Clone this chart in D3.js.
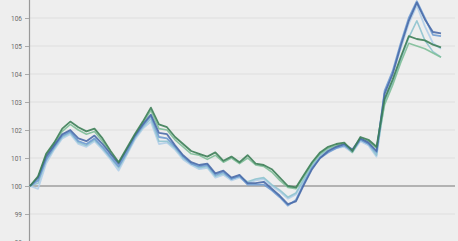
<!DOCTYPE html>
<html>
<head>
<meta charset="utf-8">
<script src="https://cdn.jsdelivr.net/npm/d3@7"></script>
<style>
html,body{margin:0;padding:0;background:#eeeeee;overflow:hidden;}
svg{display:block;}
</style>
</head>
<body>
<svg id="chart" width="458" height="241"></svg>
<script>
const periods = ["M01","M02","M03","M04","M05","M06","M07","M08","M09","M10","M11","M12",
"M13","M14","M15","M16","M17","M18","M19","M20","M21","M22","M23","M24",
"M25","M26","M27","M28","M29","M30","M31","M32","M33","M34","M35","M36",
"M37","M38","M39","M40","M41","M42","M43","M44","M45","M46","M47","M48",
"M49","M50","M51","M52"];

const yTicks = [98, 99, 100, 101, 102, 103, 104, 105, 106];

const lightBlue = [100.0, 99.9, 100.8, 101.3, 101.7, 101.85, 101.5, 101.4, 101.6, 101.3, 100.95, 100.55, 101.1, 101.65, 102.05, 102.3, 101.5, 101.55, 101.3, 100.95, 100.75, 100.6, 100.65, 100.3, 100.4, 100.2, 100.3, 100.1, 100.2, 100.25, 100.0, 99.8, 99.55, 99.7, 100.2, 100.7, 101.05, 101.25, 101.35, 101.4, 101.2, 101.6, 101.45, 101.05, 103.2, 104.0, 104.9, 105.8, 106.45, 105.7, 105.1, 104.9];
const lightTeal = [100.0, 100.1, 100.9, 101.35, 101.75, 101.9, 101.55, 101.45, 101.65, 101.35, 101.0, 100.65, 101.15, 101.7, 102.1, 102.4, 101.6, 101.6, 101.35, 101.0, 100.8, 100.65, 100.7, 100.35, 100.45, 100.25, 100.35, 100.15, 100.25, 100.3, 100.05, 99.85, 99.6, 99.75, 100.25, 100.75, 101.1, 101.3, 101.4, 101.45, 101.25, 101.65, 101.5, 101.1, 103.0, 103.7, 104.5, 105.3, 105.9, 105.2, 104.8, 104.6];
const midGreen = [100.0, 100.3, 101.1, 101.5, 101.95, 102.2, 102.0, 101.85, 101.95, 101.6, 101.15, 100.8, 101.3, 101.8, 102.25, 102.7, 102.05, 102.0, 101.65, 101.4, 101.15, 101.1, 100.95, 101.1, 100.85, 101.0, 100.8, 101.0, 100.75, 100.7, 100.5, 100.2, 99.95, 99.9, 100.35, 100.8, 101.15, 101.35, 101.45, 101.5, 101.2, 101.7, 101.6, 101.35, 102.9, 103.6, 104.4, 105.1, 105.0, 104.9, 104.75, 104.6];
const midBlue = [100.0, 100.2, 100.95, 101.4, 101.8, 101.95, 101.6, 101.5, 101.7, 101.4, 101.05, 100.7, 101.2, 101.75, 102.15, 102.5, 101.75, 101.7, 101.4, 101.05, 100.8, 100.7, 100.75, 100.4, 100.5, 100.25, 100.35, 100.05, 100.05, 100.05, 99.85, 99.6, 99.3, 99.5, 100.1, 100.65, 101.0, 101.2, 101.35, 101.45, 101.25, 101.65, 101.5, 101.2, 103.4, 104.1, 105.1, 106.0, 106.6, 106.0, 105.4, 105.35];
const darkBlue = [100.0, 100.3, 101.05, 101.45, 101.85, 102.0, 101.7, 101.6, 101.8, 101.5, 101.15, 100.8, 101.3, 101.8, 102.2, 102.55, 101.9, 101.85, 101.45, 101.1, 100.85, 100.75, 100.8, 100.45, 100.55, 100.3, 100.4, 100.1, 100.1, 100.15, 99.9, 99.65, 99.35, 99.45, 100.05, 100.6, 101.0, 101.25, 101.4, 101.5, 101.3, 101.7, 101.55, 101.25, 103.3, 104.0, 105.0, 105.9, 106.55, 105.95, 105.5, 105.45];
const darkGreen = [100.0, 100.35, 101.15, 101.55, 102.05, 102.3, 102.1, 101.95, 102.05, 101.7, 101.25, 100.85, 101.35, 101.85, 102.3, 102.8, 102.2, 102.1, 101.75, 101.5, 101.25, 101.15, 101.05, 101.2, 100.9, 101.05, 100.85, 101.1, 100.8, 100.75, 100.6, 100.3, 100.0, 99.95, 100.4, 100.85, 101.2, 101.4, 101.5, 101.55, 101.25, 101.75, 101.65, 101.4, 103.1, 103.8, 104.6, 105.35, 105.25, 105.2, 105.05, 104.95];

const seriesList = [
  {name: "light blue", values: lightBlue, color: "#b3cfe9", width: 1.8},
  {name: "light teal", values: lightTeal, color: "#8fc3cf", width: 1.6},
  {name: "mid green", values: midGreen, color: "#7fbf99", width: 1.6},
  {name: "mid blue", values: midBlue, color: "#6f9bd2", width: 1.8},
  {name: "dark blue", values: darkBlue, color: "#4a6ca8", width: 1.8},
  {name: "dark green", values: darkGreen, color: "#3d8058", width: 1.8}
];

const svg = d3.select("#chart");
const W = 458, H = 241;
const x = d3.scalePoint().domain(periods).range([30, 441]);
const y = d3.scaleLinear().domain([98, 107]).range([242, -10]);

const defs = svg.append("defs");
defs.append("filter").attr("id", "soft").attr("x", "-5%").attr("y", "-5%").attr("width", "110%").attr("height", "110%")
  .append("feGaussianBlur").attr("stdDeviation", 0.45);

svg.append("rect").attr("width", W).attr("height", H).attr("fill", "#eeeeee");

// grid
svg.append("g").selectAll("line").data(yTicks).join("line")
  .attr("x1", 29).attr("x2", 455)
  .attr("y1", d => y(d)).attr("y2", d => y(d))
  .attr("stroke", "#dedede").attr("stroke-width", 1);

// y axis
const yAxis = d3.axisLeft(y).tickValues(yTicks).tickSize(4).tickPadding(3).tickFormat(d3.format("d"));
const gy = svg.append("g").attr("transform", "translate(29,0)").call(yAxis);
gy.select(".domain").attr("stroke", "#999999").attr("stroke-width", 1.2);
gy.selectAll(".tick line").attr("stroke", "#aaaaaa");
gy.selectAll(".tick text").attr("fill", "#6a6a6a").attr("font-size", 6.5)
  .attr("font-family", "Roboto, 'DejaVu Sans', sans-serif");

// baseline 100
svg.append("line").attr("x1", 29).attr("x2", 455)
  .attr("y1", y(100)).attr("y2", y(100))
  .attr("stroke", "#a0a0a0").attr("stroke-width", 1.4);

const line = d3.line().x((d, i) => x(periods[i])).y(d => y(d)).curve(d3.curveLinear);

svg.append("g").attr("filter", "url(#soft)").selectAll("path").data(seriesList).join("path")
  .attr("d", s => line(s.values))
  .attr("fill", "none")
  .attr("stroke", s => s.color)
  .attr("stroke-width", s => s.width)
  .attr("stroke-linejoin", "round")
  .attr("opacity", 0.9);
</script>
</body>
</html>
